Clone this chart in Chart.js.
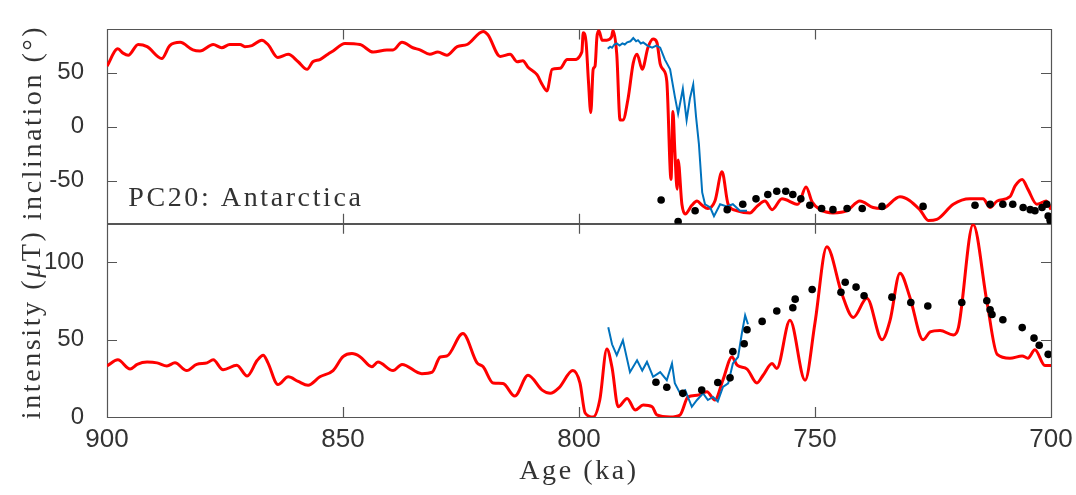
<!DOCTYPE html>
<html lang="en">
<head>
    <meta charset="UTF-8">
    <title>PC20: Antarctica</title>
    <script src="https://cdn.jsdelivr.net/npm/chart.js"></script>
    <style>
        body { margin: 0; background: #fff; }
    </style>
</head>
<body>
    <canvas id="pcChart" width="1076" height="495"></canvas>

    <script>
        // inclination (deg) vs age (ka)
        const redIncAge = [900, 897.7, 896.6, 895.5, 893.4, 891.5, 888.4, 886.7, 884.5, 881.8, 880.3, 877.5, 875.7, 874, 871.8, 870.8, 869.3, 867.2, 865.9, 863.8, 861.6, 859.5, 857.6, 856.4, 854.9, 853.2, 852.1, 849.6, 846.4, 843.6, 840.7, 839.4, 837.5, 835.2, 833.7, 831.6, 829.9, 828, 825.8, 823.7, 820.3, 819.3, 816.7, 814.6, 813.1, 811.9, 810.8, 808.9, 807.8, 806.8, 805.7, 804, 802.5, 801.2, 799.4, 799.1, 798.5, 798, 797.5, 797, 796.6, 796.2, 795.8, 795.1, 794.1, 793.1, 792.8, 792, 791.3, 790.7, 789.6, 788.5, 787.7, 786.6, 785.4, 784.3, 783.5, 782.8, 782.2, 781.4, 780.5, 780.1, 779.7, 779.2, 779, 778.2, 777.5, 776.1, 775, 773.9, 772.7, 771.2, 769.7, 768.4, 766.5, 763.8, 762.3, 760.6, 759.1, 757, 753.6, 751.9, 750.6, 748.9, 746.2, 743.2, 740.5, 737.7, 735.8, 732, 727.8, 726, 724.2, 720.7, 717.2, 714.4, 712.9, 711.4, 708.7, 707.6, 706.1, 704.9, 703, 701.7, 701, 700];
        const redInc = [56, 72, 68, 66, 76, 74, 63, 75, 78, 71, 70, 76, 73, 76, 76, 74, 75, 80, 76, 64, 67, 60, 53, 60, 62, 67, 70, 77, 76, 69, 71, 71, 78, 73, 71, 67, 69, 66, 74, 76, 88, 85, 65, 67, 60, 61, 55, 48, 39, 33, 53, 54, 62, 62, 69, 87, 78, 42, 13, 53, 56, 83, 89, 80, 80, 83, 89, 67, 6, 6, 26, 59, 67, 53, 73, 81, 78, 58, 53, 42, -49, 14, -22, -58, -31, -72, -81, -73, -69, -73, -76, -69, -42, -72, -78, -80, -74, -69, -77, -67, -72, -56, -70, -77, -80, -78, -69, -75, -76, -65, -77, -87, -86, -72, -67, -67, -75, -69, -65, -55, -49, -58, -72, -70, -69, -77];

        const blueIncAge = [793.9, 793.4, 793, 792.5, 792, 791.4, 790.8, 790.3, 789.8, 789.1, 788.5, 787.9, 787.5, 786.9, 786.4, 785.5, 784.5, 783.6, 782.8, 781.8, 780.7, 779.7, 779, 778, 777.2, 776.5, 775.8, 775.2, 774.6, 773.9, 773.3, 772.2, 771.4, 770.1, 768.7, 767.4, 765.9, 764.4];
        const blueInc = [72, 74, 73, 76, 77, 75, 77, 76, 78, 79, 82, 79, 80, 77, 78, 75, 73, 75, 73, 62, 53, 28, 12, 35, 6, 26, 39, 9, -16, -61, -72, -75, -83, -72, -74, -72, -78, -78];

        const dotIncAge = [782.6, 779, 775.4, 768.6, 765.3, 762.5, 760, 758.1, 756.2, 754.7, 753, 751.1, 748.6, 746.2, 743.2, 740, 735.8, 727.1, 716.1, 712.9, 710.2, 708.1, 705.9, 704.4, 703.4, 701.9, 700.9, 700.6, 700.2, 700];
        const dotInc = [-68, -88, -78, -77, -72, -67, -63, -60, -60, -63, -67, -73, -76, -77, -76, -76, -74, -74, -73, -72, -72, -72, -75, -77, -78, -75, -72, -83, -87, -90];

        // intensity (uT) vs age (ka)
        const redIntAge = [900, 897.7, 895.1, 893.6, 891.5, 889.4, 887.3, 885.6, 883.1, 881, 878.8, 877.5, 875.4, 872.5, 870.3, 868.2, 866.9, 865.9, 863.8, 861.6, 859.5, 857.4, 854.9, 852.1, 850, 848.1, 846.4, 843.9, 842.6, 839.4, 837.5, 833.3, 831.1, 829.4, 828, 824.6, 821.6, 820.3, 818.2, 816.1, 813.6, 810.8, 807.8, 806.1, 804.2, 801.3, 799.8, 798.7, 797, 795.6, 794.1, 793, 791.7, 789.8, 788.1, 786.4, 784.5, 783.5, 780.7, 778.6, 776.9, 775, 772.9, 771.2, 769.5, 767.6, 766.5, 764.4, 762.3, 761, 759.1, 758.1, 755.3, 752.1, 750, 747.5, 744.3, 741.9, 739, 735.8, 734.1, 732, 729.9, 727.1, 725.6, 723.5, 720.7, 719.6, 716.5, 713.6, 711.4, 708.7, 706.1, 704.9, 703.4, 701.3, 700];
        const redInt = [33, 37, 31, 34, 35.5, 35, 33, 35, 30, 34, 35, 37, 30.5, 33.5, 26.5, 36.5, 40, 35, 21, 26, 23, 20.5, 26, 30, 39, 41, 39, 32.5, 35.5, 30, 34, 28, 29, 38.8, 39.4, 54, 35, 32.5, 22, 21.6, 13.5, 27, 17.4, 15.3, 19, 30, 22, 2.6, 0, 11, 44, 32, 6.6, 12, 4.5, 7.7, 6.6, 1.3, 0, 1.3, 13, 14, 16.3, 11, 24, 38.8, 33.5, 31, 22, 27, 34.6, 31.4, 62.5, 23.8, 61, 110, 79.5, 64.4, 76.8, 50, 62.5, 93, 77.5, 50, 55, 56, 53, 58, 124.5, 75, 40.5, 38, 39.5, 38, 43.5, 33.3, 33.3];

        const blueIntAge = [793.8, 793, 792, 790.7, 789.2, 787.7, 786.6, 785.6, 784.3, 782.8, 781.4, 780.3, 779.7, 778.6, 777.5, 776.1, 775, 773.7, 772.7, 771.6, 770.6, 769.5, 768.4, 767.4, 766.3, 765.5, 764.8, 764.2];
        const blueInt = [58, 47, 40, 49.6, 29, 36.7, 30, 35.6, 26, 29, 23.8, 34.6, 21.9, 15.4, 17.4, 6.6, 11, 15.3, 11, 13, 10, 19.5, 21.7, 34.6, 38.8, 54, 65.7, 60];

        const dotIntAge = [783.7, 781.4, 778, 774, 770.6, 768, 767.4, 765, 764.4, 761.2, 758.1, 754.7, 754.2, 750.6, 744.5, 743.6, 741.3, 739.6, 733.7, 729.7, 726.1, 718.9, 713.6, 712.9, 712.5, 710.2, 706.1, 703.6, 702.5, 700.6];
        const dotInt = [22.5, 19.2, 15.3, 17.4, 22.3, 25.3, 42.3, 47.4, 56.4, 61.8, 68.5, 70.6, 76.2, 82.4, 80.7, 87.1, 84, 78.4, 77.5, 74, 71.8, 74, 75.2, 69.3, 66.3, 62.9, 57.8, 51, 46.4, 40.5];

        const RED = '#ff0000';
        const BLUE = '#0072bd';
        const AXIS = '#555555';
        const TEXT = '#333333';
        const SERIF = '"Liberation Serif", "Times New Roman", serif';
        const SANS = '"Liberation Sans", Arial, sans-serif';

        const pts = (ages, vals) => ages.map((a, i) => ({x: a, y: vals[i]}));

        const redLine = (data, yAxisID) => ({
            data, yAxisID, borderColor: RED, borderWidth: 3,
            pointRadius: 0, cubicInterpolationMode: 'monotone', fill: false
        });
        const blueLine = (data, yAxisID) => ({
            data, yAxisID, borderColor: BLUE, borderWidth: 2,
            pointRadius: 0, tension: 0, fill: false
        });
        const dots = (data, yAxisID) => ({
            data, yAxisID, showLine: false, pointRadius: 3.8,
            pointBackgroundColor: '#000', pointBorderWidth: 0
        });

        // box round each panel with inward ticks on all four sides
        const frame = {
            id: 'frame',
            beforeDatasetsDraw(chart) {
                const {ctx} = chart;
                const x = chart.scales.x;
                ctx.save();
                ctx.strokeStyle = AXIS;
                ctx.lineWidth = 1.2;
                ctx.beginPath();
                for (const id of ['inc', 'int']) {
                    const y = chart.scales[id];
                    for (const tk of x.ticks) {
                        const v = tk.value;
                        if (v <= x.min || v >= x.max) continue;
                        const px = Math.round(x.getPixelForValue(v)) + 0.5;
                        const len = v % 50 === 0 ? 10 : 6;
                        ctx.moveTo(px, y.top); ctx.lineTo(px, y.top + len);
                        ctx.moveTo(px, y.bottom); ctx.lineTo(px, y.bottom - len);
                    }
                    for (const tk of y.ticks) {
                        const v = tk.value;
                        if (v <= y.min || v >= y.max || v % 10 !== 0) continue;
                        const py = Math.round(y.getPixelForValue(v)) + 0.5;
                        const len = v % 50 === 0 ? 10 : 6;
                        ctx.moveTo(x.left, py); ctx.lineTo(x.left + len, py);
                        ctx.moveTo(x.right, py); ctx.lineTo(x.right - len, py);
                    }
                    ctx.rect(Math.round(x.left) + 0.5, Math.round(y.top) + 0.5,
                        Math.round(x.right - x.left), Math.round(y.bottom - y.top));
                }
                ctx.stroke();
                ctx.restore();
            }
        };

        // draws text pieces one after another, italic where asked
        function drawRuns(ctx, runs, x, y, align) {
            const fontFor = it => (it ? 'italic ' : '') + '28px ' + SERIF;
            let total = 0;
            for (const [s, it] of runs) { ctx.font = fontFor(it); total += ctx.measureText(s).width; }
            let cx = align === 'center' ? x - total / 2 : x;
            ctx.textAlign = 'left';
            for (const [s, it] of runs) {
                ctx.font = fontFor(it);
                ctx.fillText(s, cx, y);
                cx += ctx.measureText(s).width;
            }
        }

        // axis titles and panel label in a LaTeX-like serif
        const serifText = {
            id: 'serifText',
            afterDraw(chart) {
                const {ctx} = chart;
                const {x, inc, int} = chart.scales;
                ctx.save();
                ctx.fillStyle = TEXT;
                ctx.textBaseline = 'alphabetic';
                ctx.letterSpacing = '2.6px';

                ctx.save();
                ctx.translate(41, (inc.top + inc.bottom) / 2 - 4);
                ctx.rotate(-Math.PI / 2);
                drawRuns(ctx, [['inclination (°)', false]], 0, 0, 'center');
                ctx.restore();

                ctx.save();
                ctx.translate(40, (int.top + int.bottom) / 2 + 4);
                ctx.rotate(-Math.PI / 2);
                drawRuns(ctx, [['intensity (', false], ['μ', true], ['T)', false]], 0, 0, 'center');
                ctx.restore();

                drawRuns(ctx, [['Age (ka)', false]], (x.left + x.right) / 2, 479, 'center');

                drawRuns(ctx, [['PC20: Antarctica', false]],
                    x.getPixelForValue(895.5), inc.getPixelForValue(-74), 'left');
                ctx.restore();
            }
        };

        const yScale = (extra) => Object.assign({
            type: 'linear',
            position: 'left',
            stack: 'panels',
            grid: {display: false},
            border: {display: false},
            afterFit: s => { s.width = 107; },
            ticks: {
                stepSize: 10,
                autoSkip: false,
                padding: 15,
                color: TEXT,
                font: {family: SANS, size: 24},
                callback: v => (v % 50 === 0 ? String(v) : null)
            }
        }, extra);

        const ctx = document.getElementById('pcChart').getContext('2d');
        new Chart(ctx, {
            type: 'line',
            data: {
                datasets: [
                    dots(pts(dotIncAge, dotInc), 'inc'),
                    dots(pts(dotIntAge, dotInt), 'int'),
                    blueLine(pts(blueIncAge, blueInc), 'inc'),
                    blueLine(pts(blueIntAge, blueInt), 'int'),
                    redLine(pts(redIncAge, redInc), 'inc'),
                    redLine(pts(redIntAge, redInt), 'int')
                ]
            },
            options: {
                responsive: false,
                animation: false,
                layout: {padding: {left: 0, right: 25, top: 6, bottom: 0}},
                plugins: {legend: {display: false}, tooltip: {enabled: false}},
                scales: {
                    x: {
                        type: 'linear',
                        position: 'bottom',
                        min: 700,
                        max: 900,
                        reverse: true,
                        grid: {display: false, drawTicks: true, tickLength: 4},
                        border: {display: false},
                        afterFit: s => { s.height = 78; },
                        ticks: {
                            stepSize: 10,
                            autoSkip: false,
                            maxRotation: 0,
                            padding: 3,
                            color: TEXT,
                            font: {family: SANS, size: 26},
                            callback: v => (v % 50 === 0 ? String(v) : null)
                        }
                    },
                    int: yScale({min: 0, max: 125, stackWeight: 205}),
                    inc: yScale({min: -90, max: 90, stackWeight: 206})
                }
            },
            plugins: [frame, serifText]
        });
    </script>
</body>
</html>
